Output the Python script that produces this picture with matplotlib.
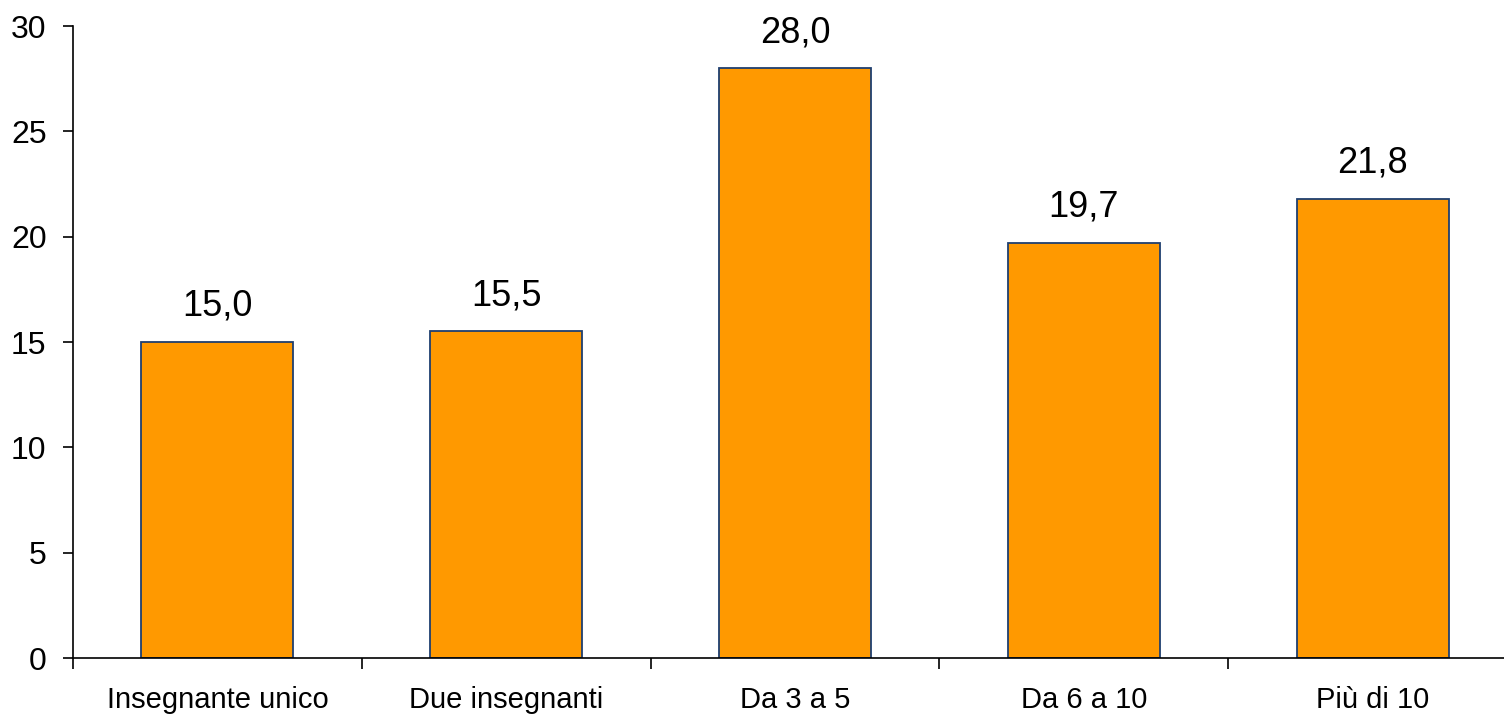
import matplotlib
matplotlib.use("Agg")
import matplotlib.pyplot as plt
import numpy as np

categories = ["Insegnante unico", "Due insegnanti", "Da 3 a 5", "Da 6 a 10", "Più di 10"]
values = [15.0, 15.5, 28.0, 19.7, 21.8]
yticks = [0, 5, 10, 15, 20, 25, 30]

plt.rcParams['font.family'] = ['Liberation Sans', 'DejaVu Sans']

fig = plt.figure(figsize=(15.04, 7.16), dpi=100)
ax = fig.add_axes([73/1504, 58/716, (1517-73)/1504, (658-26)/716])

x = np.arange(len(categories))
ax.bar(x, values, width=0.527, color="#FF9900", edgecolor="#1F3F6F", linewidth=1.3, zorder=2)

for xi, v in zip(x, values):
    ax.annotate(f"{v:.1f}".replace(".", ","), (xi, v), xytext=(0, 13), textcoords="offset points",
                ha="center", va="bottom", fontsize=26)

ax.set_xlim(-0.5, len(categories) - 0.5)
ax.set_ylim(0, 30)
ax.set_yticks(yticks)
ax.set_yticklabels([str(t) for t in yticks], fontsize=23)
ax.tick_params(axis='y', length=7, width=1.2, direction='out', pad=12)

ax.set_xticks(np.arange(-0.5, len(categories) - 0.5, 1.0))
ax.set_xticklabels([])
ax.set_xticks(x, minor=True)
ax.set_xticklabels(categories, minor=True, fontsize=21)
ax.tick_params(axis='x', which='major', length=8, width=1.2, direction='out')
ax.tick_params(axis='x', which='minor', length=0, pad=20)

for s in ['top', 'right']:
    ax.spines[s].set_visible(False)
for s in ['left', 'bottom']:
    ax.spines[s].set_linewidth(1.2)

fig.savefig("out.png", dpi=100)
